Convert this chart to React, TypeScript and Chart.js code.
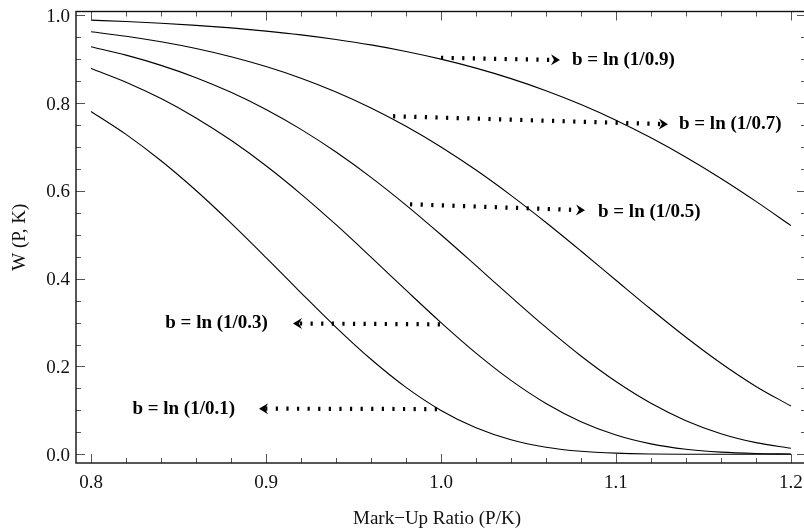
import { useEffect, useRef } from "react";
import { Chart, registerables } from "chart.js";

Chart.register(...registerables);

// Mark-up ratio samples (P/K)
const markUp = [0.80, 0.82, 0.84, 0.86, 0.88, 0.90, 0.92, 0.94, 0.96, 0.98, 1.00, 1.02, 1.04, 1.06, 1.08, 1.10, 1.12, 1.14, 1.16, 1.18, 1.20];

// W(P,K), top to bottom
const wQ09 = [0.9888, 0.9856, 0.9817, 0.9770, 0.9711, 0.9639, 0.9553, 0.9448, 0.9324, 0.9175, 0.9000, 0.8795, 0.8556, 0.8281, 0.7966, 0.7609, 0.7209, 0.6767, 0.6283, 0.5761, 0.5208];
const wQ07 = [0.9624, 0.9522, 0.9395, 0.9241, 0.9054, 0.8831, 0.8565, 0.8252, 0.7889, 0.7472, 0.7000, 0.6474, 0.5898, 0.5280, 0.4630, 0.3965, 0.3303, 0.2665, 0.2073, 0.1546, 0.1099];
const wQ05 = [0.9283, 0.9091, 0.8858, 0.8578, 0.8245, 0.7853, 0.7400, 0.6884, 0.6308, 0.5676, 0.5000, 0.4296, 0.3584, 0.2890, 0.2239, 0.1657, 0.1162, 0.0766, 0.0470, 0.0266, 0.0137];
const wQ03 = [0.8787, 0.8475, 0.8101, 0.7661, 0.7151, 0.6572, 0.5927, 0.5229, 0.4491, 0.3739, 0.3000, 0.2305, 0.1683, 0.1158, 0.0743, 0.0440, 0.0238, 0.0115, 0.0049, 0.0018, 0.0006];
const wQ01 = [0.7809, 0.7287, 0.6685, 0.6008, 0.5266, 0.4481, 0.3678, 0.2893, 0.2164, 0.1524, 0.1000, 0.0604, 0.0331, 0.0162, 0.0069, 0.0026, 0.0008, 0.0002, 0.0000, 0.0000, 0.0000];

const seriesValues = [wQ09, wQ07, wQ05, wQ03, wQ01];
const seriesLabels = ["b = ln (1/0.9)", "b = ln (1/0.7)", "b = ln (1/0.5)", "b = ln (1/0.3)", "b = ln (1/0.1)"];

// Axis ticks
const xMajorTicks = [0.8, 0.9, 1.0, 1.1, 1.2];
const xTickLabels = ["0.8", "0.9", "1.0", "1.1", "1.2"];
const xMinorTicks = [0.80, 0.82, 0.84, 0.86, 0.88, 0.90, 0.92, 0.94, 0.96, 0.98, 1.00, 1.02, 1.04, 1.06, 1.08, 1.10, 1.12, 1.14, 1.16, 1.18, 1.20];
const yMajorTicks = [0.0, 0.2, 0.4, 0.6, 0.8, 1.0];
const yTickLabels = ["0.0", "0.2", "0.4", "0.6", "0.8", "1.0"];
const yMinorTicks = [0.00, 0.05, 0.10, 0.15, 0.20, 0.25, 0.30, 0.35, 0.40, 0.45, 0.50, 0.55, 0.60, 0.65, 0.70, 0.75, 0.80, 0.85, 0.90, 0.95, 1.00];

// Annotation arrows (data coordinates)
const arrowStartX = [1.000, 0.9726, 0.9823, 0.9994, 0.9977];
const arrowStartY = [0.903, 0.770, 0.5695, 0.296, 0.103];
const arrowEndX = [1.068, 1.1297, 1.0823, 0.9154, 0.896];
const arrowEndY = [0.898, 0.7517, 0.5558, 0.298, 0.104];
const labelX = [1.0749, 1.136, 1.0897, 0.9011, 0.8823];
const labelY = [0.897, 0.753, 0.551, 0.298, 0.104];
const labelAlign = ["left", "left", "left", "right", "right"];

const xTitle = "Mark\u2212Up Ratio (P/K)";
const yTitle = "W (P, K)";

const FONT = "'Liberation Serif', 'Times New Roman', serif";

const isMajor = (v: number, step: number) => Math.abs(v / step - Math.round(v / step)) < 1e-6;

const framePlugin = {
  id: "mathematicaFrame",
  afterDatasetsDraw(chart: any) {
    const { ctx, chartArea: a, scales } = chart;
    const xs = scales.x;
    const ys = scales.y;
    ctx.save();

    // ticks
    ctx.strokeStyle = "#555";
    ctx.lineWidth = 1;
    ctx.beginPath();
    xMinorTicks.forEach((v) => {
      const px = Math.round(xs.getPixelForValue(v)) + 0.5;
      const len = isMajor(v, 0.1) ? 9 : 5;
      ctx.moveTo(px, a.bottom);
      ctx.lineTo(px, a.bottom - len);
      ctx.moveTo(px, a.top);
      ctx.lineTo(px, a.top + len);
    });
    yMinorTicks.forEach((v) => {
      const py = Math.round(ys.getPixelForValue(v)) + 0.5;
      const len = isMajor(v, 0.2) ? 9 : 5;
      ctx.moveTo(a.left, py);
      ctx.lineTo(a.left + len, py);
      ctx.moveTo(a.right, py);
      ctx.lineTo(a.right - len, py);
    });
    ctx.stroke();

    // frame
    ctx.strokeStyle = "#111";
    ctx.lineWidth = 1.4;
    ctx.strokeRect(a.left, a.top, a.right - a.left, a.bottom - a.top);

    // tick labels
    ctx.fillStyle = "#111";
    ctx.font = `19px ${FONT}`;
    ctx.textBaseline = "alphabetic";
    ctx.textAlign = "center";
    xMajorTicks.forEach((v, i) => {
      ctx.fillText(xTickLabels[i], xs.getPixelForValue(v), a.bottom + 24.5);
    });
    ctx.textAlign = "right";
    yMajorTicks.forEach((v, i) => {
      ctx.fillText(yTickLabels[i], a.left - 6, ys.getPixelForValue(v) + 6.5);
    });

    // arrows
    ctx.fillStyle = "#000";
    ctx.strokeStyle = "#000";
    for (let i = 0; i < arrowStartX.length; i++) {
      const x0 = xs.getPixelForValue(arrowStartX[i]);
      const y0 = ys.getPixelForValue(arrowStartY[i]);
      const x1 = xs.getPixelForValue(arrowEndX[i]);
      const y1 = ys.getPixelForValue(arrowEndY[i]);
      const ang = Math.atan2(y1 - y0, x1 - x0);
      const c = Math.cos(ang), s = Math.sin(ang);
      const notch = 6;
      ctx.save();
      ctx.lineWidth = 4.2;
      ctx.lineCap = "butt";
      ctx.setLineDash([2.2, 8.4]);
      ctx.beginPath();
      ctx.moveTo(x0, y0);
      ctx.lineTo(x1 - c * notch, y1 - s * notch);
      ctx.stroke();
      ctx.restore();
      const L = 9, H = 5.5;
      const pt = (dx: number, dy: number) => [x1 + c * dx - s * dy, y1 + s * dx + c * dy];
      const p1 = pt(-L, -H), p2 = pt(-notch, 0), p3 = pt(-L, H);
      ctx.beginPath();
      ctx.moveTo(x1, y1);
      ctx.lineTo(p1[0], p1[1]);
      ctx.lineTo(p2[0], p2[1]);
      ctx.lineTo(p3[0], p3[1]);
      ctx.closePath();
      ctx.fill();
    }

    // series labels
    ctx.font = `bold 19px ${FONT}`;
    ctx.textBaseline = "middle";
    for (let i = 0; i < seriesLabels.length; i++) {
      ctx.textAlign = labelAlign[i] as CanvasTextAlign;
      ctx.fillText(seriesLabels[i], xs.getPixelForValue(labelX[i]), ys.getPixelForValue(labelY[i]));
    }

    // axis titles
    ctx.font = `19px ${FONT}`;
    ctx.fillStyle = "#111";
    ctx.textAlign = "center";
    ctx.textBaseline = "middle";
    ctx.fillText(xTitle, (a.left + a.right) / 2 - 4, 519);
    ctx.save();
    ctx.translate(20, (a.top + a.bottom) / 2);
    ctx.rotate(-Math.PI / 2);
    ctx.fillText(yTitle, 0, 0);
    ctx.restore();

    ctx.restore();
  },
};

export default function App() {
  const ref = useRef<HTMLCanvasElement | null>(null);

  useEffect(() => {
    if (!ref.current) return;
    const datasets = seriesValues.map((vals, i) => ({
      label: seriesLabels[i],
      data: markUp.map((x, j) => ({ x, y: vals[j] })),
      borderColor: "#000",
      borderWidth: 1.1,
      pointRadius: 0,
      fill: false,
      cubicInterpolationMode: "monotone" as const,
    }));
    const chart = new Chart(ref.current, {
      type: "line",
      data: { datasets },
      options: {
        animation: false,
        responsive: false,
        devicePixelRatio: 1,
        layout: { padding: { top: 11.5, right: 24, left: 0, bottom: 0 } },
        plugins: { legend: { display: false }, tooltip: { enabled: false } },
        scales: {
          x: {
            type: "linear",
            bounds: "data",
            min: 0.7914,
            max: 1.2086,
            afterFit: (s: any) => { s.height = 69; },
            grid: { display: false, drawTicks: false },
            border: { display: false },
            ticks: { display: false },
          },
          y: {
            type: "linear",
            bounds: "data",
            min: -0.0198,
            max: 1.0085,
            afterFit: (s: any) => { s.width = 76; },
            grid: { display: false, drawTicks: false },
            border: { display: false },
            ticks: { display: false },
          },
        },
      },
      plugins: [framePlugin],
    });
    return () => chart.destroy();
  }, []);

  return (
    <div style={{ position: "fixed", left: 0, top: 0, width: 804, height: 532, overflow: "hidden", background: "#fff" }}>
      <canvas ref={ref} width={830} height={532} style={{ display: "block" }} />
    </div>
  );
}
